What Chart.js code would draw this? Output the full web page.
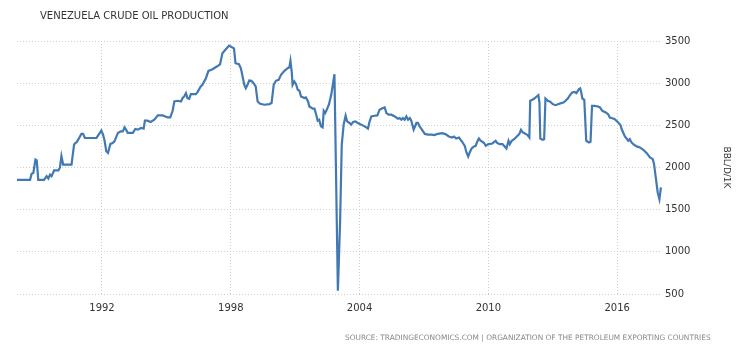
<!DOCTYPE html>
<html><head><meta charset="utf-8">
<script src="https://cdn.jsdelivr.net/npm/chart.js@4.4.1/dist/chart.umd.min.js"></script>
<style>
html,body{margin:0;padding:0;background:#fff;}
#wrap{position:relative;width:750px;height:363px;overflow:hidden;}
#title{position:absolute;left:40px;top:10px;font:10px "DejaVu Sans",sans-serif;color:#333;white-space:nowrap;line-height:12px;}
#source{position:absolute;left:345px;top:333px;font:7.4px "DejaVu Sans",sans-serif;color:#888;white-space:nowrap;line-height:10px;}
canvas{position:absolute;left:0;top:0;}
</style></head><body>
<div id="wrap"><canvas id="c" width="750" height="363"></canvas>
<div id="title">VENEZUELA CRUDE OIL PRODUCTION</div>
<div id="source">SOURCE: TRADINGECONOMICS.COM | ORGANIZATION OF THE PETROLEUM EXPORTING COUNTRIES</div></div>
<script>
const years = [
1988.04,1988.65,1988.72,1988.8,1988.9,1988.96,1989.03,1989.3,1989.42,1989.5,1989.58,1989.65,1989.77,1989.97,
1990.04,1990.11,1990.19,1990.58,1990.7,1990.76,1990.82,1990.89,1991.04,1991.12,1991.2,1991.74,1991.9,1991.97,
1992.05,1992.12,1992.2,1992.28,1992.39,1992.5,1992.58,1992.74,1992.87,1992.97,1993.05,1993.12,1993.2,1993.44,
1993.55,1993.67,1993.82,1993.94,1994.0,1994.12,1994.26,1994.44,1994.6,1994.83,1995.06,1995.18,1995.29,1995.37,
1995.52,1995.68,1995.75,1995.83,1995.91,1995.98,1996.06,1996.14,1996.37,1996.45,1996.6,1996.68,1996.84,1996.96,
1997.15,1997.35,1997.5,1997.61,1997.77,1997.92,1998.03,1998.15,1998.22,1998.38,1998.47,1998.55,1998.63,1998.7,
1998.78,1998.86,1998.96,1999.06,1999.16,1999.25,1999.37,1999.56,1999.8,1999.9,2000.0,2000.1,2000.23,2000.34,
2000.5,2000.65,2000.73,2000.78,2000.84,2000.88,2000.96,2001.04,2001.12,2001.2,2001.27,2001.43,2001.5,2001.6,
2001.66,2001.82,2001.9,2001.98,2002.05,2002.12,2002.2,2002.28,2002.33,2002.4,2002.47,2002.57,2002.68,2002.83,
2002.99,2003.09,2003.17,2003.26,2003.35,2003.42,2003.53,2003.61,2003.7,2003.8,2003.92,2004.08,2004.31,2004.39,
2004.47,2004.55,2004.7,2004.83,2004.93,2005.09,2005.17,2005.25,2005.36,2005.48,2005.64,2005.79,2005.87,2005.95,
2006.02,2006.1,2006.18,2006.26,2006.34,2006.41,2006.52,2006.65,2006.72,2006.8,2006.96,2007.04,2007.19,2007.35,
2007.5,2007.6,2007.84,2008.0,2008.16,2008.31,2008.4,2008.5,2008.63,2008.78,2008.9,2008.98,2009.06,2009.13,
2009.22,2009.33,2009.41,2009.48,2009.56,2009.64,2009.72,2009.8,2009.88,2010.0,2010.19,2010.34,2010.42,2010.53,
2010.66,2010.73,2010.84,2010.94,2011.0,2011.09,2011.2,2011.28,2011.36,2011.44,2011.52,2011.6,2011.67,2011.75,
2011.83,2011.91,2011.95,2012.05,2012.14,2012.25,2012.33,2012.38,2012.42,2012.53,2012.6,2012.66,2012.77,2012.88,
2013.0,2013.13,2013.24,2013.39,2013.5,2013.6,2013.7,2013.78,2013.9,2014.02,2014.1,2014.17,2014.22,2014.28,
2014.33,2014.38,2014.47,2014.56,2014.69,2014.76,2014.83,2014.95,2015.11,2015.2,2015.31,2015.47,2015.58,2015.66,
2015.81,2015.89,2016.05,2016.16,2016.2,2016.28,2016.36,2016.44,2016.52,2016.59,2016.67,2016.75,2016.91,2017.06,
2017.22,2017.38,2017.53,2017.66,2017.72,2017.81,2017.89,2017.97,2018.04
];
const production = [
1854,1854,1925,1935,2095,2085,1854,1854,1898,1870,1915,1898,1965,1965,
2000,2134,2035,2035,2272,2290,2300,2330,2398,2398,2350,2350,2410,2437,
2390,2319,2193,2173,2280,2290,2310,2410,2429,2429,2476,2449,2410,2410,
2457,2449,2469,2461,2555,2555,2539,2567,2618,2618,2594,2594,2673,2783,
2791,2783,2822,2843,2882,2822,2815,2870,2870,2894,2961,2980,3059,3146,
3165,3197,3224,3354,3402,3445,3429,3413,3236,3224,3177,3079,2980,2941,
2980,3031,3028,3000,2961,2783,2756,2744,2752,2764,2980,3028,3039,3098,
3146,3177,3189,3264,3130,2980,3020,2988,2921,2910,2843,2823,2830,2783,
2724,2697,2697,2626,2555,2567,2488,2476,2673,2646,2685,2744,2862,3106,
540,1330,2270,2510,2614,2547,2528,2508,2540,2547,2528,2508,2476,2461,
2547,2606,2614,2618,2685,2705,2712,2646,2626,2626,2606,2578,2586,2567,
2586,2567,2606,2567,2586,2555,2449,2528,2528,2488,2429,2398,2390,2390,
2384,2396,2408,2396,2368,2356,2368,2344,2356,2305,2257,2178,2131,2178,
2226,2250,2257,2305,2344,2317,2305,2290,2257,2277,2285,2317,2290,2277,
2277,2257,2226,2317,2277,2317,2336,2356,2376,2396,2447,2416,2408,2396,
2384,2356,2791,2803,2818,2842,2858,2771,2344,2328,2336,2818,2791,2779,
2751,2739,2751,2763,2771,2791,2818,2850,2889,2897,2881,2909,2929,2937,
2889,2818,2802,2317,2297,2305,2731,2731,2723,2712,2672,2652,2632,2593,
2581,2573,2534,2502,2462,2415,2368,2344,2317,2336,2297,2277,2250,2238,
2210,2170,2119,2099,2040,1862,1704,1625,1764
];
const xTickYears = [1992, 1998, 2004, 2010, 2016];
const yTickValues = [500, 1000, 1500, 2000, 2500, 3000, 3500];
const unitLabel = 'BBL/D/1K';

const points = years.map((y, i) => ({ x: y, y: production[i] }));
const gridStyle = { color: '#cfcfcf', lineWidth: 1, drawTicks: false };
const tickFont = { family: 'DejaVu Sans', size: 10 };

new Chart(document.getElementById('c'), {
  type: 'line',
  data: { datasets: [{
    data: points, borderColor: '#4279b3', borderWidth: 2.2,
    pointRadius: 0, tension: 0, fill: false
  }]},
  options: {
    responsive: false, animation: false, devicePixelRatio: 1,
    layout: { padding: { left: 17, top: 41, right: 0, bottom: 0 } },
    plugins: { legend: { display: false }, tooltip: { enabled: false } },
    scales: {
      x: {
        type: 'linear', min: 1988.04, max: 2018.09,
        afterBuildTicks: s => { s.ticks = xTickYears.map(v => ({ value: v })); },
        afterFit: s => { s.height = 69; },
        grid: { ...gridStyle, borderDash: [1, 2] },
        border: { display: false, dash: [1, 2] },
        ticks: { padding: 8, color: '#333', font: tickFont, maxRotation: 0, autoSkip: false,
                 callback: v => String(v) }
      },
      y: {
        position: 'right', min: 500, max: 3500,
        afterBuildTicks: s => { s.ticks = yTickValues.map(v => ({ value: v })); },
        afterFit: s => { s.width = 88; },
        grid: { ...gridStyle },
        border: { display: false, dash: [1, 2] },
        ticks: { padding: 3, color: '#333', font: tickFont, callback: v => String(v) },
        title: { display: true, text: unitLabel, color: '#333',
                 font: { family: 'DejaVu Sans', size: 9 }, padding: { top: 18, bottom: 0 } }
      }
    }
  }
});
</script>
</body></html>
